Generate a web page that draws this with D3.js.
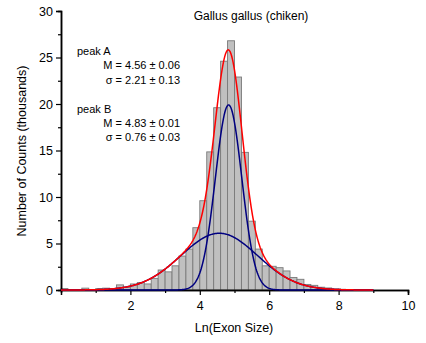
<!DOCTYPE html>
<html>
<head>
<meta charset="utf-8">
<script src="https://cdn.jsdelivr.net/npm/d3@7"></script>
<style>
  body { margin: 0; background: #fff; }
  svg text { font-family: "Liberation Sans", Arial, sans-serif; fill: #000; }
</style>
</head>
<body>
<svg id="chart" width="426" height="343"></svg>
<script>
// histogram bins (left edge, width 0.2) and counts in thousands
const binWidth = 0.2;
const binLeft = [0.0, 0.2, 0.4, 0.6, 0.8, 1.0, 1.2, 1.4, 1.6, 1.8,
                 2.0, 2.2, 2.4, 2.6, 2.8, 3.0, 3.2, 3.4, 3.6, 3.8,
                 4.0, 4.2, 4.4, 4.6, 4.8, 5.0, 5.2, 5.4, 5.6, 5.8,
                 6.0, 6.2, 6.4, 6.6, 6.8, 7.0, 7.2, 7.4, 7.6, 7.8,
                 8.0, 8.2, 8.4];
const counts = [0.15, 0, 0, 0.2, 0, 0.15, 0.2, 0, 0.55, 0.3,
                0.65, 0.8, 0.65, 1.25, 2.15, 1.95, 2.6, 3.65, 4.4, 6.7,
                9.6, 14.85, 19.6, 24.6, 26.8, 22.9, 14.8, 7.4, 4.4, 2.6,
                2.55, 2.4, 2.05, 1.35, 1.15, 0.6, 0.5, 0.3, 0.22, 0.12,
                0.08, 0.05, 0.03];

// gaussian fit (Origin form, w = 2 sigma): centre, width, height
const peakNames = ["peak A", "peak B"];
const peakM = [4.56, 4.83];
const peakMErr = [0.06, 0.01];
const peakW = [2.21, 0.76];
const peakWErr = [0.13, 0.03];
const peakHeight = [6.1, 19.9];

const xMajor = [2, 4, 6, 8, 10];
const xMinor = [1, 3, 5, 7, 9];
const yMajor = [0, 5, 10, 15, 20, 25, 30];
const yMinor = [2.5, 7.5, 12.5, 17.5, 22.5, 27.5];

const svg = d3.select("#chart");

const x = d3.scaleLinear().domain([0, 10]).range([61, 408]);
const y = d3.scaleLinear().domain([0, 30]).range([290, 11]);

function gauss(i, v) {
  return peakHeight[i] * Math.exp(-2 * Math.pow(v - peakM[i], 2) / Math.pow(peakW[i], 2));
}

// bars
svg.append("g").selectAll("rect")
  .data(counts)
  .join("rect")
  .attr("x", (d, i) => x(binLeft[i]))
  .attr("width", x(binWidth) - x(0))
  .attr("y", d => y(d))
  .attr("height", d => y(0) - y(d))
  .attr("fill", "#c0c0c0")
  .attr("stroke", "#7a7a7a")
  .attr("stroke-width", 0.9);

// axes
svg.append("g").attr("transform", "translate(61,0)")
  .call(d3.axisLeft(y).tickValues(yMajor).tickSize(5).tickPadding(3).tickFormat(d3.format("d")));
svg.append("g").attr("transform", "translate(61,0)")
  .call(d3.axisLeft(y).tickValues(yMinor).tickSize(3).tickFormat(""));
svg.append("g").attr("transform", "translate(0,290)")
  .call(d3.axisBottom(x).tickValues(xMajor).tickSize(5).tickPadding(6).tickFormat(d3.format("d")));
svg.append("g").attr("transform", "translate(0,290)")
  .call(d3.axisBottom(x).tickValues(xMinor).tickSize(3).tickFormat(""));

svg.selectAll(".domain").attr("stroke", "#000").attr("stroke-width", 1.5);
svg.selectAll(".tick line").attr("stroke", "#000").attr("stroke-width", 1.2);
svg.selectAll(".tick text").attr("font-size", 12.5)
  .attr("font-family", "Liberation Sans, Arial, sans-serif").attr("fill", "#000");

// fit curves
const xs = d3.range(0, 9.001, 0.02);
const line = d3.line().x(d => x(d[0])).y(d => y(d[1]));

[0, 1].forEach(i => {
  svg.append("path")
    .datum(xs.map(v => [v, gauss(i, v)]))
    .attr("d", line)
    .attr("fill", "none")
    .attr("stroke", "#000080")
    .attr("stroke-width", 1.5);
});
svg.append("path")
  .datum(xs.map(v => [v, gauss(0, v) + gauss(1, v)]))
  .attr("d", line)
  .attr("fill", "none")
  .attr("stroke", "#ff0000")
  .attr("stroke-width", 1.5);

// labels
svg.append("text").attr("x", 251).attr("y", 20).attr("text-anchor", "middle")
  .attr("font-size", 12).text("Gallus gallus (chiken)");

svg.append("text").attr("x", 234).attr("y", 332).attr("text-anchor", "middle")
  .attr("font-size", 12.5).text("Ln(Exon Size)");

svg.append("text")
  .attr("transform", "translate(26,151) rotate(-90)")
  .attr("text-anchor", "middle")
  .attr("font-size", 12.5).text("Number of Counts (thousands)");

const tops = [55, 112.5];
peakNames.forEach((name, i) => {
  const t = tops[i];
  svg.append("text").attr("x", 77).attr("y", t).attr("font-size", 11).text(name);
  svg.append("text").attr("x", 180).attr("y", t + 14).attr("text-anchor", "end")
    .attr("font-size", 11).text("M = " + peakM[i].toFixed(2) + " \u00b1 " + peakMErr[i].toFixed(2));
  svg.append("text").attr("x", 180).attr("y", t + 28.5).attr("text-anchor", "end")
    .attr("font-size", 11).text("\u03c3 = " + peakW[i].toFixed(2) + " \u00b1 " + peakWErr[i].toFixed(2));
});
</script>
</body>
</html>
